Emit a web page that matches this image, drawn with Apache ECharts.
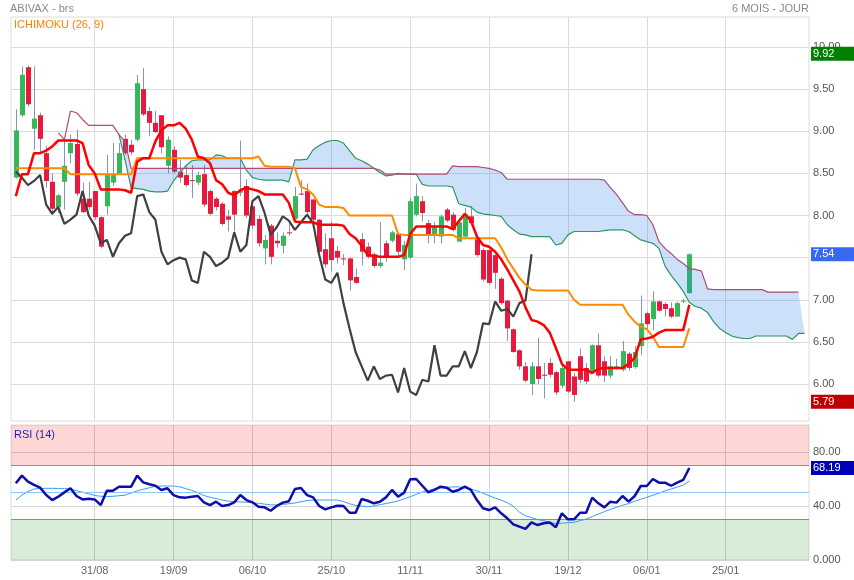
<!DOCTYPE html>
<html>
<head>
<meta charset="utf-8">
<script src="https://cdn.jsdelivr.net/npm/echarts/dist/echarts.min.js"></script>
<style>
html,body{margin:0;padding:0;background:#fff;}
#chart{width:854px;height:580px;}
</style>
</head>
<body>
<div id="chart"></div>
<script>
// ---------- DATA (trading-day index 0 = 12/08) ----------
const tickIdx = [13, 26, 39, 52, 65, 78, 91, 104, 117];
const tickLabels = ['31/08', '19/09', '06/10', '25/10', '11/11', '30/11', '19/12', '06/01', '25/01'];
const priceTicks = [6.0, 6.5, 7.0, 7.5, 8.0, 8.5, 9.0, 9.5, 10.0];
const rsiTicks = [0, 40, 80];

const open = [8.45,9.19,9.76,9.03,9.19,8.74,8.40,8.10,8.40,8.74,8.85,8.20,8.20,8.29,7.98,8.11,8.39,8.50,8.91,8.84,
8.90,9.50,9.24,9.10,9.19,8.59,8.78,8.52,8.48,8.42,8.39,8.49,8.29,8.20,8.14,7.99,8.29,8.27,8.35,8.11,
7.96,7.61,7.88,7.70,7.64,7.80,7.96,8.26,8.29,8.19,7.95,7.60,7.73,7.58,7.49,7.49,7.27,7.72,7.63,7.54,
7.40,7.67,7.70,7.78,7.48,7.50,8.01,8.17,7.91,7.77,7.75,8.07,8.01,7.69,7.75,7.99,7.72,7.59,7.59,7.53,
7.25,6.99,6.65,6.40,6.21,6.00,6.21,6.11,6.25,6.14,5.98,6.27,6.09,6.33,6.19,6.14,6.46,6.27,6.10,6.20,
6.17,6.36,6.20,6.45,6.84,6.77,6.98,6.95,6.90,6.80,6.98,7.08];
const close = [9.01,9.67,9.32,9.15,8.91,8.41,8.08,8.24,8.59,8.86,8.26,8.04,8.10,7.98,7.63,8.48,8.48,8.74,8.74,8.75,
9.57,9.20,9.10,8.99,8.81,8.90,8.52,8.45,8.36,8.41,8.48,8.13,8.02,8.10,7.90,7.95,8.01,8.29,8.00,7.88,
7.67,7.71,7.51,7.67,7.76,7.79,8.23,8.25,8.04,7.95,7.57,7.42,7.47,7.50,7.48,7.23,7.20,7.57,7.51,7.40,
7.44,7.50,7.80,7.57,7.65,8.17,8.23,8.03,7.77,7.86,7.99,7.94,7.83,7.92,8.01,7.91,7.53,7.24,7.20,7.32,
6.96,6.66,6.38,6.21,6.04,6.21,6.06,6.10,6.11,5.90,6.19,5.91,5.87,6.05,6.03,6.46,6.10,6.10,6.21,6.21,
6.39,6.19,6.38,6.72,6.71,6.98,6.87,6.89,6.80,6.96,6.99,7.54];
const low = [8.44,9.17,9.29,8.78,8.75,8.33,8.01,8.03,8.07,8.62,8.23,8.03,8.07,7.95,7.61,8.01,8.35,8.48,8.72,8.72,
8.88,9.18,8.94,8.98,8.74,8.50,8.50,8.39,8.34,8.21,8.36,8.10,8.00,8.06,7.88,7.81,7.81,8.23,7.97,7.84,
7.63,7.42,7.42,7.62,7.55,7.76,7.95,8.24,8.00,7.93,7.55,7.38,7.34,7.43,7.41,7.11,7.19,7.41,7.49,7.38,
7.38,7.45,7.68,7.52,7.35,7.48,7.99,7.93,7.67,7.67,7.67,7.92,7.81,7.69,7.74,7.89,7.51,7.22,7.18,7.13,
6.94,6.51,6.37,6.17,6.02,5.87,6.00,5.83,6.08,5.87,5.95,5.89,5.79,6.01,6.00,6.12,6.08,6.02,6.07,6.17,
6.15,6.16,6.18,6.35,6.64,6.64,6.86,6.80,6.78,6.80,6.96,7.07];
const high = [9.26,9.77,9.78,9.77,9.22,8.83,8.50,8.25,8.88,8.96,9.02,8.39,8.40,8.29,7.99,8.72,8.86,8.86,8.96,8.90,
9.67,9.75,9.29,9.24,9.19,8.94,8.82,8.66,8.60,8.60,8.52,8.60,8.31,8.22,8.16,8.07,8.30,8.89,8.43,8.15,
8.00,7.77,7.90,7.80,7.80,7.93,8.34,8.42,8.38,8.20,7.96,7.79,7.93,7.64,7.54,7.50,7.37,7.79,7.68,7.56,
7.92,7.70,7.82,7.80,7.70,8.21,8.38,8.23,7.95,7.92,8.01,8.09,8.04,7.94,8.09,8.11,7.74,7.61,7.60,7.54,
7.27,7.00,6.66,6.41,6.26,6.26,6.55,6.25,6.31,6.16,6.24,6.27,6.13,6.42,6.25,6.47,6.60,6.33,6.33,6.30,
6.51,6.38,6.45,7.05,6.86,7.10,6.99,6.97,6.97,6.98,7.01,7.55];

// Ichimoku lines
const tenkan = [8.23,8.49,8.49,8.74,8.74,8.77,8.82,8.89,8.89,8.89,8.89,8.86,8.60,8.50,8.31,8.31,8.31,8.31,8.30,8.27,
8.64,8.68,8.68,8.88,9.01,9.07,9.07,9.10,9.03,8.90,8.70,8.68,8.62,8.42,8.37,8.27,8.24,8.30,8.33,8.31,
8.29,8.25,8.25,8.25,8.25,8.15,7.93,7.92,7.92,7.92,7.89,7.89,7.89,7.89,7.88,7.78,7.73,7.64,7.53,7.52,
7.51,7.51,7.51,7.51,7.53,7.78,7.87,7.87,7.87,7.87,7.87,7.87,7.84,7.93,8.02,7.94,7.75,7.65,7.63,7.57,
7.48,7.36,7.23,7.10,6.91,6.76,6.74,6.70,6.61,6.43,6.24,6.17,6.17,6.17,6.17,6.13,6.18,6.19,6.19,6.19,
6.19,6.24,6.31,6.53,6.54,6.56,6.61,6.64,6.64,6.64,6.64,6.94];
const kijun = [8.56,8.56,8.56,8.56,8.56,8.56,8.56,8.56,8.56,8.49,8.49,8.49,8.49,8.49,8.49,8.49,8.49,8.49,8.49,8.49,
8.68,8.68,8.68,8.68,8.68,8.68,8.68,8.68,8.68,8.68,8.68,8.68,8.68,8.68,8.68,8.68,8.68,8.68,8.68,8.68,
8.70,8.59,8.58,8.58,8.58,8.58,8.56,8.34,8.31,8.25,8.13,8.10,8.10,8.10,8.09,8.00,8.00,8.00,8.00,8.00,
8.00,8.00,8.00,7.78,7.77,7.77,7.77,7.77,7.77,7.77,7.77,7.77,7.77,7.73,7.73,7.73,7.73,7.73,7.73,7.73,
7.62,7.48,7.37,7.26,7.18,7.12,7.11,7.11,7.11,7.11,7.11,7.11,7.00,6.94,6.94,6.94,6.94,6.94,6.94,6.94,
6.94,6.82,6.74,6.68,6.65,6.56,6.44,6.44,6.44,6.44,6.44,6.66];
// lagging span, plotted from index 0
const chikou = [8.52,8.45,8.36,8.41,8.48,8.13,8.02,8.10,7.90,7.95,8.01,8.29,8.00,7.88,7.67,7.71,7.51,7.67,7.76,7.79,
8.23,8.25,8.04,7.95,7.57,7.42,7.47,7.50,7.48,7.23,7.20,7.57,7.51,7.40,7.44,7.50,7.80,7.57,7.65,8.17,
8.23,8.03,7.77,7.86,7.99,7.94,7.83,7.92,8.01,7.91,7.53,7.24,7.20,7.32,6.96,6.66,6.38,6.21,6.04,6.21,
6.06,6.10,6.11,5.90,6.19,5.91,5.87,6.05,6.03,6.46,6.10,6.10,6.21,6.21,6.39,6.19,6.38,6.72,6.71,6.98,
6.87,6.89,6.80,6.96,6.99,7.54];
const senkouBStart = 7;
const senkouB = [8.98,8.90,9.24,9.22,9.14,9.07,9.07,9.07,9.07,9.07,8.96,8.88,8.56,
8.56,8.56,8.56,8.56,8.56,8.56,8.56,8.56,8.56,8.56,8.56,8.56,8.56,8.56,8.56,8.56,8.56,8.56,8.56,8.56,
8.56,8.56,8.56,8.56,8.56,8.56,8.56,8.56,8.56,8.56,8.56,8.56,8.56,8.56,8.56,8.56,8.56,8.56,8.56,8.56,
8.54,8.49,8.49,8.49,8.49,8.49,8.49,8.49,8.49,8.49,8.49,8.49,8.59,8.58,8.58,8.58,8.58,8.57,8.56,8.54,
8.51,8.43,8.43,8.43,8.43,8.43,8.43,8.43,8.43,8.43,8.43,8.43,8.43,8.43,8.43,8.43,8.43,8.42,8.33,8.25,
8.15,8.05,8.01,8.01,8.00,7.89,7.69,7.61,7.55,7.48,7.43,7.37,7.36,7.34,7.13,7.12,7.12,7.12,7.12,7.12,
7.12,7.12,7.12,7.12,7.09,7.09,7.09,7.09,7.09,7.09];
const senkouAStart = 17;
const senkouA = [8.96,8.66,8.33,8.32,8.31,8.29,8.28,8.28,8.29,8.41,8.50,8.59,8.65,8.66,8.66,8.66,8.72,8.71,8.68,
8.68,8.68,8.54,8.45,8.43,8.42,8.42,8.42,8.42,8.40,8.66,8.66,8.67,8.78,8.83,8.87,8.89,8.89,8.86,8.77,
8.68,8.65,8.61,8.56,8.51,8.47,8.48,8.50,8.49,8.49,8.49,8.37,8.35,8.35,8.35,8.35,8.34,8.14,8.12,8.10,
8.04,8.02,8.01,8.00,7.99,7.89,7.83,7.78,7.77,7.75,7.75,7.75,7.75,7.65,7.67,7.77,7.81,7.81,7.81,7.81,
7.81,7.82,7.83,7.83,7.83,7.81,7.76,7.71,7.69,7.67,7.61,7.40,7.29,7.20,7.10,6.97,6.92,6.90,6.85,6.74,
6.66,6.61,6.57,6.55,6.54,6.54,6.57,6.57,6.57,6.57,6.57,6.57,6.53,6.60,6.60];

const rsi = [56.8,62.5,58.0,55.6,53.6,48.1,44.4,46.9,50.1,53.1,47.4,44.9,45.4,44.9,40.7,51.3,51.3,54.3,54.3,54.3,
62.5,57.5,56.1,55.0,51.9,53.1,48.1,46.4,46.2,46.9,47.4,42.7,40.7,43.2,40.0,40.7,42.7,48.1,44.4,42.7,
39.5,39.0,36.5,40.0,42.5,43.5,52.6,53.3,48.1,46.4,40.0,37.5,39.0,40.2,40.0,35.0,35.0,45.2,43.9,42.0,
43.2,46.4,51.9,46.9,49.9,59.8,60.0,55.0,50.1,51.9,54.3,53.6,50.6,51.9,54.3,51.9,44.4,38.3,37.0,39.0,
34.6,30.9,26.4,24.7,23.0,27.9,25.9,27.2,27.7,24.2,34.6,30.1,30.1,35.0,35.0,46.2,42.0,39.0,43.2,42.5,
47.4,43.2,47.4,54.8,54.8,60.0,57.3,57.3,55.0,57.3,59.3,68.19];
const rsiSignal = [44.4,48.0,50.8,52.6,53.0,53.1,53.1,53.0,52.8,52.6,51.3,50.2,49.0,47.8,47.2,46.9,47.2,47.6,48.0,49.6,
51.2,52.4,53.5,54.6,54.8,54.8,54.8,54.2,52.9,51.6,49.9,47.8,46.5,45.5,44.4,43.6,43.3,43.0,42.8,42.4,
42.0,41.4,40.9,40.8,41.2,41.7,42.2,43.2,44.0,44.4,44.4,44.4,44.4,44.4,43.3,41.7,40.4,39.9,39.5,40.0,
41.0,41.8,42.7,43.8,45.3,46.8,48.6,50.3,51.5,52.8,53.4,53.8,54.1,54.2,53.5,52.6,51.2,49.5,47.6,45.9,
44.3,42.5,39.8,35.5,32.8,31.3,30.0,29.2,27.8,27.1,27.2,27.6,27.9,29.1,30.3,32.2,34.0,35.8,37.5,39.0,
40.5,41.8,43.5,45.0,46.4,48.0,49.5,51.2,52.6,54.0,55.5,58.5];

const tagHigh = 9.92, tagLast = 7.54, tagLow = 5.79, tagRsi = 68.19;
const rsiLevels = [70, 50, 30];

// ---------- CHART ----------
const FONT = '"Liberation Sans", Arial, sans-serif';
const chart = echarts.init(document.getElementById('chart'), null, {renderer: 'canvas'});

const candleData = open.map((o, i) => [i, o, close[i], low[i], high[i]]);
const idxPairs = (arr, start) => arr.map((v, k) => [start + k, v]);

function renderCandle(params, api) {
  const i = api.value(0);
  const o = api.value(1), c = api.value(2), l = api.value(3), h = api.value(4);
  const pO = api.coord([i, o]), pC = api.coord([i, c]);
  const pL = api.coord([i, l]), pH = api.coord([i, h]);
  const cx = Math.round(pO[0]) + 0.5;
  const top = Math.min(pO[1], pC[1]);
  const bh = Math.max(1, Math.abs(pO[1] - pC[1]));
  return {
    type: 'group',
    children: [
      {type: 'line', shape: {x1: cx, y1: pH[1], x2: cx, y2: pL[1]}, style: {stroke: '#8497ae', lineWidth: 1}},
      {type: 'rect', shape: {x: cx - 2.5, y: top, width: 5, height: bh},
       style: {fill: c >= o ? '#35b858' : '#e8193d'}}
    ]
  };
}

function renderCloud(params, api) {
  const pts = [];
  for (let k = 0; k < senkouA.length; k++) {
    pts.push(api.coord([senkouAStart + k, senkouA[k]]));
  }
  for (let k = senkouA.length - 1; k >= 0; k--) {
    const i = senkouAStart + k;
    pts.push(api.coord([i, senkouB[i - senkouBStart]]));
  }
  return {type: 'polygon', shape: {points: pts}, style: {fill: 'rgba(40,130,230,0.24)'}};
}

const tagLabel = (bg) => ({
  show: true, position: 'end', distance: 2, color: '#fff', backgroundColor: bg,
  fontSize: 11, fontFamily: FONT, padding: [2, 20, 1, 2],
  formatter: (p) => Number(p.value).toFixed(2)
});

const xMin = -0.796, xMax = 130.73;

const option = {
  animation: false,
  backgroundColor: '#fff',
  textStyle: {fontFamily: FONT},
  title: [
    {text: 'ABIVAX - brs', left: 10, top: 3, padding: 0,
     textStyle: {fontSize: 11, color: '#8a8a8a', fontWeight: 'normal', fontFamily: FONT}},
    {text: '6 MOIS - JOUR', right: 45, top: 3, padding: 0,
     textStyle: {fontSize: 11, color: '#8a8a8a', fontWeight: 'normal', fontFamily: FONT}},
    {text: 'ICHIMOKU (26, 9)', left: 14, top: 19, padding: 0,
     textStyle: {fontSize: 11, color: '#ff8000', fontWeight: 'normal', fontFamily: FONT}},
    {text: 'RSI (14)', left: 14, top: 429, padding: 0,
     textStyle: {fontSize: 11, color: '#2424b8', fontWeight: 'normal', fontFamily: FONT}}
  ],
  grid: [
    {left: 11, top: 17, width: 798, height: 404, show: true, borderColor: '#dcdcdc', borderWidth: 1, backgroundColor: 'transparent'},
    {left: 11, top: 425, width: 798, height: 135, show: true, borderColor: '#dcdcdc', borderWidth: 1, backgroundColor: 'transparent'}
  ],
  xAxis: [
    {type: 'value', gridIndex: 0, min: xMin, max: xMax,
     axisLine: {show: false}, axisTick: {show: false, customValues: tickIdx},
     axisLabel: {show: false, customValues: tickIdx},
     splitLine: {show: true, lineStyle: {color: '#dcdcdc', width: 1}}},
    {type: 'value', gridIndex: 1, min: xMin, max: xMax,
     axisLine: {show: false}, axisTick: {show: false, customValues: tickIdx},
     axisLabel: {show: true, customValues: tickIdx, margin: 5, color: '#666', fontSize: 11, fontFamily: FONT,
       formatter: (v) => { const k = tickIdx.indexOf(Math.round(v)); return k >= 0 ? tickLabels[k] : ''; }},
     splitLine: {show: true, lineStyle: {color: '#d4d4d4', width: 1}}}
  ],
  yAxis: [
    {type: 'value', gridIndex: 0, position: 'right', min: 5.561, max: 10.356, scale: true,
     axisLine: {show: false}, axisTick: {show: false, customValues: priceTicks},
     axisLabel: {show: true, customValues: priceTicks, margin: 4, color: '#555', fontSize: 11, fontFamily: FONT,
       formatter: (v) => v.toFixed(2)},
     splitLine: {show: true, lineStyle: {color: '#dcdcdc', width: 1}}},
    {type: 'value', gridIndex: 1, position: 'right', min: 0, max: 100,
     axisLine: {show: false}, axisTick: {show: false, customValues: rsiTicks},
     axisLabel: {show: true, customValues: rsiTicks, margin: 4, color: '#555', fontSize: 11, fontFamily: FONT,
       formatter: (v) => v.toPrecision(4)},
     splitLine: {show: true, lineStyle: {color: '#d4d4d4', width: 1}}}
  ],
  series: [
    {type: 'custom', name: 'candles', xAxisIndex: 0, yAxisIndex: 0, z: 2,
     renderItem: renderCandle, data: candleData, encode: {x: 0, y: [1, 2, 3, 4]}},
    {type: 'custom', name: 'cloud', xAxisIndex: 0, yAxisIndex: 0, z: 3,
     renderItem: renderCloud, data: [[senkouAStart, senkouA[0]]], encode: {x: 0, y: 1}, silent: true},
    {type: 'line', name: 'senkouA', xAxisIndex: 0, yAxisIndex: 0, z: 4, symbol: 'none',
     data: idxPairs(senkouA, senkouAStart), lineStyle: {color: '#2f9467', width: 1.2}},
    {type: 'line', name: 'senkouB', xAxisIndex: 0, yAxisIndex: 0, z: 4, symbol: 'none',
     data: idxPairs(senkouB, senkouBStart), lineStyle: {color: '#b04a73', width: 1.2}},
    {type: 'line', name: 'chikou', xAxisIndex: 0, yAxisIndex: 0, z: 5, symbol: 'none',
     data: idxPairs(chikou, 0), lineStyle: {color: '#404040', width: 2.2}},
    {type: 'line', name: 'kijun', xAxisIndex: 0, yAxisIndex: 0, z: 5, symbol: 'none',
     data: idxPairs(kijun, 0), lineStyle: {color: '#ff8a00', width: 2}},
    {type: 'line', name: 'tenkan', xAxisIndex: 0, yAxisIndex: 0, z: 6, symbol: 'none',
     data: idxPairs(tenkan, 0), lineStyle: {color: '#ff0000', width: 2.5},
     markLine: {silent: true, symbol: ['none', 'none'], animation: false,
       lineStyle: {color: 'rgba(0,0,0,0)', width: 0},
       data: [
         {yAxis: tagHigh, label: tagLabel('#008000')},
         {yAxis: tagLast, label: tagLabel('#3a68f2')},
         {yAxis: tagLow, label: tagLabel('#c00000')}
       ]}},
    {type: 'line', name: 'rsiSignal', xAxisIndex: 1, yAxisIndex: 1, z: 4, symbol: 'none',
     data: idxPairs(rsiSignal, 0), lineStyle: {color: '#3d9cf2', width: 1},
     markArea: {silent: true, data: [
       [{yAxis: 70, itemStyle: {color: 'rgba(255,0,0,0.16)'}}, {yAxis: 100}],
       [{yAxis: 0, itemStyle: {color: 'rgba(0,120,0,0.15)'}}, {yAxis: 30}]
     ]},
     markLine: {silent: true, symbol: ['none', 'none'], animation: false, label: {show: false},
       data: [
         {yAxis: rsiLevels[0], lineStyle: {color: '#f06a6a', width: 1, type: 'solid'}},
         {yAxis: rsiLevels[1], lineStyle: {color: '#8cc6ff', width: 1, type: 'solid'}},
         {yAxis: rsiLevels[2], lineStyle: {color: '#5aad5a', width: 1, type: 'solid'}}
       ]}},
    {type: 'line', name: 'rsi', xAxisIndex: 1, yAxisIndex: 1, z: 5, symbol: 'none',
     data: idxPairs(rsi, 0), lineStyle: {color: '#0e0eaa', width: 2.5},
     markLine: {silent: true, symbol: ['none', 'none'], animation: false,
       lineStyle: {color: 'rgba(0,0,0,0)', width: 0},
       data: [{yAxis: tagRsi, label: tagLabel('#0000b8')}]}}
  ]
};
chart.setOption(option);
</script>
</body>
</html>
